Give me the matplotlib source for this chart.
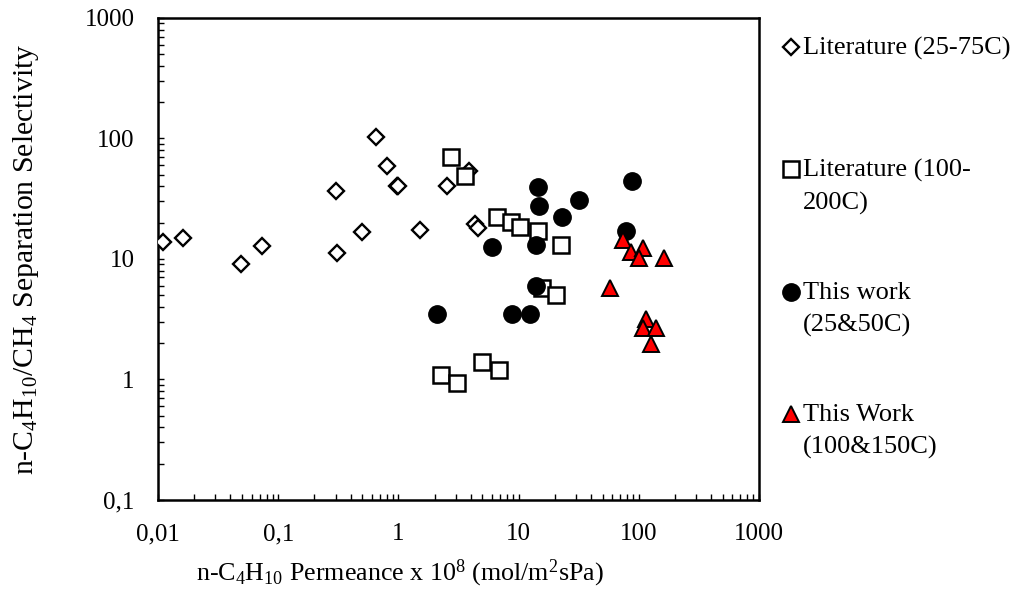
import matplotlib
matplotlib.use("Agg")
from matplotlib import pyplot as plt
from matplotlib.ticker import LogLocator, FixedLocator, FixedFormatter, NullFormatter

plt.rcParams['font.family'] = ['Liberation Serif', 'DejaVu Serif']
plt.rcParams['mathtext.fontset'] = 'custom'
plt.rcParams['mathtext.rm'] = 'Liberation Serif'
plt.rcParams['mathtext.it'] = 'Liberation Serif:italic'

# Literature (25-75C)
lit_low_perm = [0.0109, 0.016, 0.049, 0.073, 0.30, 0.31, 0.50, 0.65, 0.80, 0.97, 1.0,
                1.52, 2.55, 3.9, 4.3, 4.6]
lit_low_sel = [13.9, 14.9, 9.0, 12.9, 36.6, 11.1, 16.7, 103, 59, 40, 40,
               17.3, 40.4, 54, 19.3, 18.0]

# Literature (100-200C)
lit_high_perm = [2.74, 3.58, 6.65, 8.65, 10.3, 14.4, 22.5, 15.6, 20.5, 2.25, 3.05, 4.93, 6.9]
lit_high_sel = [70.6, 48.9, 22.2, 20.2, 18.2, 17.1, 13.1, 5.7, 5.0, 1.09, 0.94, 1.40, 1.19]

# This work (25&50C)
work_low_perm = [14.6, 14.8, 32, 23, 88, 78, 6.0, 13.9, 13.9, 2.11, 8.77, 12.4]
work_low_sel = [39.8, 27.5, 30.9, 22.2, 44.4, 17.1, 12.6, 13.1, 5.97, 3.5, 3.5, 3.5]

# This Work (100&150C)
work_high_perm = [74, 86, 109, 100, 163, 58, 115, 109, 138, 126]
work_high_sel = [14.4, 11.3, 12.3, 10.1, 10.1, 5.7, 3.16, 2.66, 2.66, 1.96]

x_ticks = [0.01, 0.1, 1, 10, 100, 1000]
x_tick_labels = ['0,01', '0,1', '1', '10', '100', '1000']
y_ticks = [0.1, 1, 10, 100, 1000]
y_tick_labels = ['0,1', '1', '10', '100', '1000']

fig = plt.figure(figsize=(10.2, 5.95), dpi=100)
ax = fig.add_axes([0.155, 0.160, 0.589, 0.810])

ax.plot(lit_low_perm, lit_low_sel, linestyle='None', marker='D', ms=8,
        mfc='white', mec='black', mew=1.7, label='Literature (25-75C)\n', zorder=3)
ax.plot(lit_high_perm, lit_high_sel, linestyle='None', marker='s', ms=11,
        mfc='white', mec='black', mew=1.8, label='Literature (100-\n200C)', zorder=3)
ax.plot(work_low_perm, work_low_sel, linestyle='None', marker='o', ms=12.5,
        mfc='black', mec='black', mew=1, label='This work\n(25&50C)', zorder=4)
ax.plot(work_high_perm, work_high_sel, linestyle='None', marker='^', ms=11,
        mfc='#ff0000', mec='black', mew=1.4, label='This Work\n(100&150C)', zorder=5)

ax.set_xscale('log')
ax.set_yscale('log')
ax.set_xlim(0.01, 1000)
ax.set_ylim(0.1, 1000)

ax.xaxis.set_major_locator(FixedLocator(x_ticks))
ax.xaxis.set_major_formatter(FixedFormatter(x_tick_labels))
ax.yaxis.set_major_locator(FixedLocator(y_ticks))
ax.yaxis.set_major_formatter(FixedFormatter(y_tick_labels))
for axis in (ax.xaxis, ax.yaxis):
    axis.set_minor_locator(LogLocator(base=10, subs=range(2, 10), numticks=20))
    axis.set_minor_formatter(NullFormatter())

ax.tick_params(which='both', direction='in', width=1.0, labelsize=18)
ax.tick_params(which='major', length=4.5)
ax.tick_params(which='minor', length=4)
ax.tick_params(axis='x', pad=17)
ax.tick_params(axis='y', pad=17)
for spine in ax.spines.values():
    spine.set_linewidth(1.8)

ax.set_xlabel('n-C$_4$H$_{10}$ Permeance x 10$^8$ (mol/m$^2$sPa)', fontsize=18.7,
              labelpad=9, x=0.403)
ax.set_ylabel('n-C$_4$H$_{10}$/CH$_4$ Separation Selectivity', fontsize=21.4, labelpad=31)

leg = fig.legend(loc='upper left', bbox_to_anchor=(0.7677, 0.9378), frameon=False,
                 fontsize=19, handlelength=0.6, handletextpad=0.155,
                 labelspacing=2.55, borderpad=0, borderaxespad=0)
for text in leg.get_texts():
    text.set_linespacing(1.55)
# put each legend marker on the first line of its label
for handle in leg.legend_handles:
    handle.set_ydata([y + 12 for y in handle.get_ydata()])

plt.savefig('out.png', dpi=100)
